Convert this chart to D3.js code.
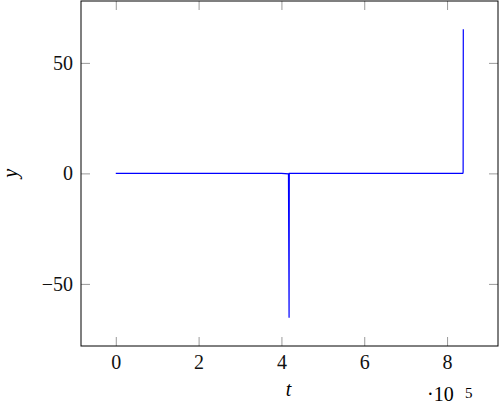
<!DOCTYPE html>
<html>
<head>
<meta charset="utf-8">
<script src="https://cdn.jsdelivr.net/npm/d3@7"></script>
<style>
  body { margin: 0; background: #fff; }
  svg { display: block; font-family: "Liberation Serif", "DejaVu Serif", serif; }
  .tick line { stroke: #9a9a9a; }
  .tick text { font-size: 20px; fill: #111; }
</style>
</head>
<body>
<svg class="chart"></svg>
<script>
// samples (t in raw units, y value)
var tValues = [0, 100000, 200000, 300000, 400000, 417000, 418500, 419000, 500000, 600000, 700000, 800000, 838000, 838800, 839200];
var yValues = [0, 0, 0, 0, 0, -0.2, -65.3, 0, 0, 0, 0, 0, 0, 0.5, 65.2];
var xTicks = [0, 200000, 400000, 600000, 800000];
var yTicks = [-50, 0, 50];

var data = tValues.map(function (t, i) { return {t: t, y: yValues[i]}; });

const canvas = {width: 499, height: 404};
const box = {left: 81, top: 1, right: 498, bottom: 346};

const x = d3.scaleLinear()
    .domain([-84000, 923000])
    .range([box.left, box.right]);

const y = d3.scaleLinear()
    .domain([-78.1, 78])
    .range([box.bottom, box.top]);

const svg = d3.select(".chart")
    .attr("width", canvas.width)
    .attr("height", canvas.height);

function clean(g) {
    g.attr("font-family", null).attr("font-size", null);
    g.select(".domain").remove();
}

// ticks on all four sides, pointing inwards
svg.append("g")
    .attr("transform", "translate(0," + box.bottom + ")")
    .call(d3.axisBottom(x).tickValues(xTicks).tickSizeInner(-9).tickSizeOuter(0)
        .tickPadding(9).tickFormat(function (d) { return d / 100000; }))
    .call(clean);

svg.append("g")
    .attr("transform", "translate(0," + box.top + ")")
    .call(d3.axisTop(x).tickValues(xTicks).tickSizeInner(-9).tickSizeOuter(0).tickFormat(""))
    .call(clean);

svg.append("g")
    .attr("transform", "translate(" + box.left + ",0)")
    .call(d3.axisLeft(y).tickValues(yTicks).tickSizeInner(-9).tickSizeOuter(0).tickPadding(8))
    .call(clean);

svg.append("g")
    .attr("transform", "translate(" + box.right + ",0)")
    .call(d3.axisRight(y).tickValues(yTicks).tickSizeInner(-9).tickSizeOuter(0).tickFormat(""))
    .call(clean);

svg.append("path")
    .datum(data)
    .attr("fill", "none")
    .attr("stroke", "#0000ff")
    .attr("stroke-width", 1.2)
    .attr("d", d3.line().x(d => x(d.t)).y(d => y(d.y)));

// frame
svg.append("rect")
    .attr("x", box.left)
    .attr("y", box.top)
    .attr("width", box.right - box.left)
    .attr("height", box.bottom - box.top)
    .attr("fill", "none")
    .attr("stroke", "#000")
    .attr("stroke-width", 1);

// axis labels
svg.append("text")
    .attr("x", (box.left + box.right) / 2 - 1)
    .attr("y", 396)
    .attr("text-anchor", "middle")
    .style("font-size", "20px")
    .style("font-style", "italic")
    .text("t");

svg.append("text")
    .attr("transform", "translate(17," + y(0) + ") rotate(-90)")
    .attr("text-anchor", "middle")
    .style("font-size", "20px")
    .style("font-style", "italic")
    .text("y");

// scale factor
const sf = svg.append("text")
    .attr("x", 427)
    .attr("y", 401)
    .style("font-size", "20px");
sf.append("tspan").text("\u00b710");
sf.append("tspan").attr("x", 465).attr("y", 398).style("font-size", "15px").text("5");
</script>
</body>
</html>
